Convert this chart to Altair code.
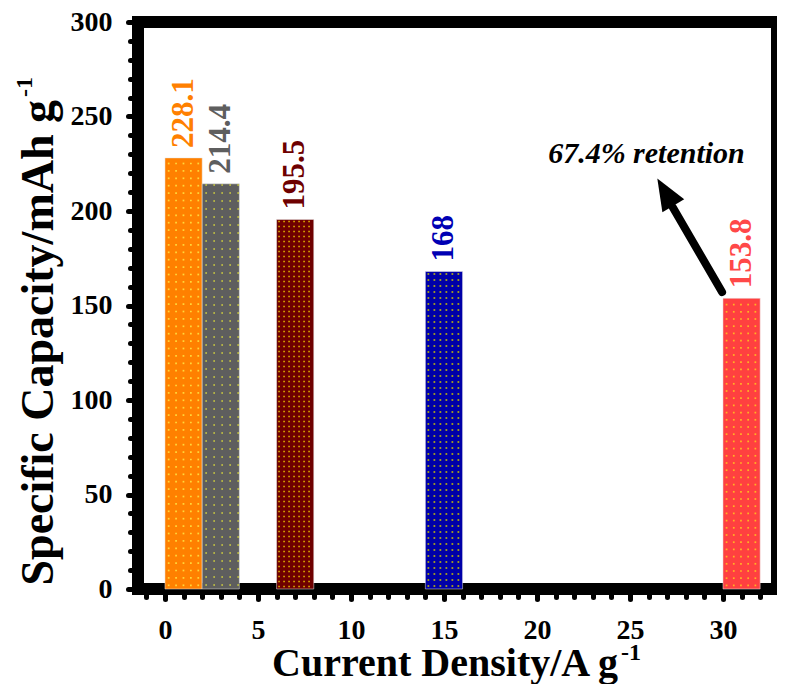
import altair as alt
import numpy as np
import pandas as pd

# ---- data ----
bar_left = [0, 2, 6, 14, 30]          # current density (bar start)
bar_right = [2, 4, 8, 16, 32]         # current density (bar end)
capacity = [228.1, 214.4, 195.5, 168, 153.8]
cap_labels = ["228.1", "214.4", "195.5", "168", "153.8"]
bar_colors = ["#FF8000", "#5E5E5E", "#6E0000", "#0000A8", "#FF4040"]
text_colors = ["#FF8000", "#5E5E5E", "#6E0000", "#0000B4", "#FF4848"]
dot_colors = ["#FFE040", "#C8C840", "#E0B000", "#C8C000", "#FFC020"]
dot_step_px = [7.4, 8.0, 5.0, 6.0, 7.2]

x_ticks = list(range(-1, 33))
y_ticks = list(range(0, 301, 10))

arrow_tail = [29.95, 157.1]
arrow_head_base = [27.3, 202.0]
arrow_head_mid = [26.9, 210.0]
note_pos = [20.6, 225.5]
note_text = "67.4% retention"

FONT = "Liberation Serif"
W, H = 639, 567
X_DOMAIN = [-1.45, -1.45 + W / 18.6]
Y_DOMAIN = [0, 300]

df = pd.DataFrame({
    "x0": bar_left, "x1": bar_right,
    "xc": [(a + b) / 2 for a, b in zip(bar_left, bar_right)],
    "cap": capacity, "zero": [0] * len(capacity), "label": cap_labels,
    "bcolor": bar_colors, "tcolor": text_colors,
})

# decorative dot texture inside each bar (derived from the bar arrays)
px_per_x = W / (X_DOMAIN[1] - X_DOMAIN[0])
px_per_y = H / (Y_DOMAIN[1] - Y_DOMAIN[0])
dx_list, dy_list, dc_list = [], [], []
for x0, x1, cap, col, step in zip(bar_left, bar_right, capacity, dot_colors, dot_step_px):
    sx, sy = step / px_per_x, step / px_per_y
    for xv in np.arange(x0 + sx / 2, x1, sx):
        for yv in np.arange(sy / 2, cap, sy):
            dx_list.append(xv)
            dy_list.append(yv)
            dc_list.append(col)
dots_df = pd.DataFrame({"x": dx_list, "y": dy_list, "c": dc_list})

xscale = alt.Scale(domain=X_DOMAIN, nice=False, zero=False)
yscale = alt.Scale(domain=Y_DOMAIN, nice=False)

xaxis = alt.Axis(
    values=x_ticks, tickCount=len(x_ticks), title=None, grid=False, domain=False,
    labelExpr="(datum.value % 5 == 0 && datum.value >= 0) ? datum.label : ''",
    labelFont=FONT, labelFontWeight="bold", labelFontSize=28, labelColor="black",
    labelPadding=17, labelFlush=False, labelOverlap=False, labelBound=False,
    tickColor="black", tickWidth=5, tickCap="round",
    tickSize=alt.condition("datum.value % 5 == 0", alt.value(10), alt.value(8)),
)
yaxis = alt.Axis(
    values=y_ticks, tickCount=len(y_ticks), title=None, grid=False, domain=False,
    labelExpr="(datum.value % 50 == 0) ? datum.label : ''",
    labelFont=FONT, labelFontWeight="bold", labelFontSize=28, labelColor="black",
    labelPadding=16, labelFlush=False, labelOverlap=False, labelBound=False,
    tickColor="black", tickWidth=5, tickCap="round",
    tickSize=alt.condition("datum.value % 50 == 0", alt.value(10), alt.value(8)),
)

base = alt.Chart(df)
bars = base.mark_bar(stroke="#e8e8e8", strokeWidth=0.5).encode(
    x=alt.X("x0:Q", scale=xscale, axis=xaxis),
    x2="x1:Q",
    y=alt.Y("cap:Q", scale=yscale, axis=yaxis),
    y2="zero:Q",
    color=alt.Color("bcolor:N", scale=None),
)
dots = alt.Chart(dots_df).mark_square(size=3, opacity=0.9).encode(
    x="x:Q", y="y:Q", color=alt.Color("c:N", scale=None))
vals = base.mark_text(angle=270, align="left", baseline="middle", dx=10,
                      font=FONT, fontWeight="bold", fontSize=31).encode(
    x="xc:Q", y="cap:Q", text="label:N",
    color=alt.Color("tcolor:N", scale=None),
)

arrow_df = pd.DataFrame({"x": [arrow_tail[0]], "y": [arrow_tail[1]],
                         "x2": [arrow_head_base[0]], "y2": [arrow_head_base[1]]})
shaft = alt.Chart(arrow_df).mark_rule(strokeWidth=8, strokeCap="round", color="black").encode(
    x="x:Q", y="y:Q", x2="x2:Q", y2="y2:Q")
head_df = pd.DataFrame({"x": [arrow_head_mid[0]], "y": [arrow_head_mid[1]]})
head = alt.Chart(head_df).mark_point(
    shape="M0,-1L0.8,1L-0.8,1Z", filled=True, opacity=1, color="black",
    size=1000, angle=329.6, strokeWidth=0).encode(x="x:Q", y="y:Q")

note_df = pd.DataFrame({"x": [note_pos[0]], "y": [note_pos[1]], "t": [note_text]})
note = alt.Chart(note_df).mark_text(align="left", baseline="alphabetic", font=FONT,
                                    fontWeight="bold", fontStyle="italic", fontSize=30,
                                    color="black").encode(x="x:Q", y="y:Q", text="t:N")

one = pd.DataFrame({"a": [0]})
xtitle = alt.Chart(one).mark_text(align="right", baseline="alphabetic", font=FONT,
                                  fontWeight="bold", fontSize=40, color="black").encode(
    x=alt.value(480), y=alt.value(654), text=alt.value("Current Density/A g"))
xsup = alt.Chart(one).mark_text(align="left", baseline="alphabetic", font=FONT,
                                fontWeight="bold", fontSize=24, color="black").encode(
    x=alt.value(483), y=alt.value(638), text=alt.value("-1"))
ytitle = alt.Chart(one).mark_text(align="right", baseline="alphabetic", angle=270, font=FONT,
                                  fontWeight="bold", fontSize=46, color="black").encode(
    x=alt.value(-85), y=alt.value(78), text=alt.value("Specific Capacity/mAh g"))
ysup = alt.Chart(one).mark_text(align="left", baseline="alphabetic", angle=270, font=FONT,
                                fontWeight="bold", fontSize=24, color="black").encode(
    x=alt.value(-106), y=alt.value(75), text=alt.value("-1"))

chart = alt.layer(bars, dots, vals, shaft, head, note, xtitle, xsup, ytitle, ysup).properties(
    width=W, height=H,
    padding={"left": 130, "top": 14, "right": 0, "bottom": 95},
    autosize=alt.AutoSizeParams(type="none"),
).configure_view(stroke="black", strokeWidth=12)

chart.save("out.html", embed_options={"renderer": "svg", "actions": False})
